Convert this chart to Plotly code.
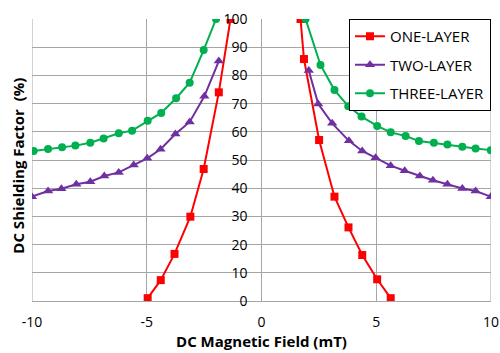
import plotly.graph_objects as go

one_x = [-4.96, -4.39, -3.79, -3.10, -2.52, -1.86, -1.35, None,
         1.70, 1.85, 2.51, 3.18, 3.79, 4.39, 5.04, 5.63]
one_y = [1, 7.4, 16.7, 29.9, 46.8, 74.0, 100, None,
         100, 85.8, 57.1, 37.0, 26.1, 16.3, 7.7, 1]

two_x = [-10.0, -9.30, -8.72, -8.07, -7.46, -6.85, -6.22, -5.57, -4.98, -4.40, -3.75, -3.13, -2.49, -1.86, None,
         2.06, 2.47, 3.08, 3.81, 4.39, 4.97, 5.63, 6.24, 6.90, 7.47, 8.10, 8.75, 9.33, 9.99]
two_y = [37.0, 39.0, 39.8, 41.4, 42.3, 44.3, 45.6, 48.2, 50.6, 53.8, 59.2, 63.5, 72.6, 85.1, None,
         81.7, 69.9, 63.0, 56.8, 53.2, 50.8, 48.0, 46.2, 44.3, 42.8, 41.4, 39.9, 39.0, 37.0]

three_x = [-9.93, -9.30, -8.69, -8.11, -7.46, -6.88, -6.22, -5.64, -4.96, -4.37, -3.72, -3.13, -2.52, -1.98, None,
           1.92, 2.57, 3.18, 3.78, 4.36, 5.04, 5.63, 6.28, 6.86, 7.51, 8.10, 8.75, 9.33, 9.99]
three_y = [53.2, 53.9, 54.5, 55.1, 56.1, 57.6, 59.5, 60.4, 63.9, 66.7, 71.9, 77.4, 89.0, 100, None,
           100, 83.7, 74.8, 69.1, 65.4, 62.1, 59.8, 58.5, 56.7, 56.1, 55.5, 54.7, 54.1, 53.5]

x_ticks = [-10, -5, 0, 5, 10]
y_ticks = [0, 10, 20, 30, 40, 50, 60, 70, 80, 90, 100]

FONT = "Open Sans"
GRID = "#a6a6a6"
fig = go.Figure()
fig.add_trace(go.Scatter(x=one_x, y=one_y, name="ONE-LAYER", mode="lines+markers",
                         legendgroup="a",
                         line=dict(color="#ff0000", width=2),
                         marker=dict(symbol="square", size=8, color="#ff0000"),
                         connectgaps=False))
fig.add_trace(go.Scatter(x=two_x, y=two_y, name="TWO-LAYER", mode="lines+markers",
                         legendgroup="b",
                         line=dict(color="#7030a0", width=2),
                         marker=dict(symbol="triangle-up", size=9, color="#7030a0"),
                         connectgaps=False))
fig.add_trace(go.Scatter(x=three_x, y=three_y, name="THREE-LAYER", mode="lines+markers",
                         legendgroup="c",
                         line=dict(color="#00b050", width=2),
                         marker=dict(symbol="circle", size=8, color="#00b050"),
                         connectgaps=False))

fig.update_layout(
    width=500, height=353,
    margin=dict(l=32, r=9, t=19, b=52),
    paper_bgcolor="white", plot_bgcolor="white",
    font=dict(family=FONT, size=14, color="black"),
    showlegend=True,
    legend=dict(x=1.0, y=1.0, xanchor="right", yanchor="top",
                bordercolor="black", borderwidth=1, bgcolor="white",
                font=dict(family=FONT, size=15), traceorder="grouped",
                tracegroupgap=6, itemwidth=30),
    xaxis=dict(range=[-10, 10], tickvals=x_ticks, ticktext=[str(v) for v in x_ticks],
               showgrid=True, gridcolor=GRID, gridwidth=1, automargin=False,
               zeroline=False, showline=True, linecolor=GRID,
               ticks="", ticklabelstandoff=8,
               tickfont=dict(family=FONT, size=14),
               title=dict(text="<b>DC Magnetic Field (mT)</b>", standoff=4,
                          font=dict(family=FONT, size=15))),
    yaxis=dict(range=[0, 100], tickvals=y_ticks, ticktext=[str(v) for v in y_ticks],
               showgrid=True, gridcolor=GRID, gridwidth=1, automargin=False,
               zeroline=False, showline=False,
               anchor="free", position=0.5,
               ticks="", ticklabelstandoff=14,
               tickfont=dict(family=FONT, size=14)),
    annotations=[dict(text="<b>DC Shielding Factor&nbsp; (%)</b>", textangle=-90,
                      xref="paper", yref="paper", x=-0.031, y=0.479,
                      xanchor="center", yanchor="middle", showarrow=False,
                      font=dict(family=FONT, size=15))],
)
fig.add_shape(type="line", xref="x", yref="paper", x0=10, x1=10, y0=0, y1=1,
              line=dict(color=GRID, width=1), layer="below")
fig.add_shape(type="line", xref="x", yref="paper", x0=-10, x1=-10, y0=0, y1=1,
              line=dict(color=GRID, width=1), layer="below")

fig.write_html("out.html")
